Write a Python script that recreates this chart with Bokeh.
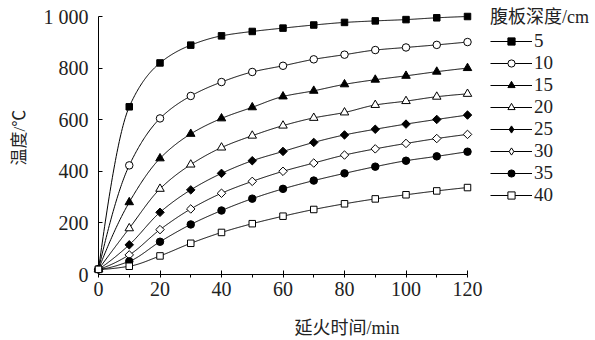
import numpy as np
from bokeh.plotting import figure
from bokeh.models import Range1d, SingleIntervalTicker, Legend, LegendItem
from bokeh.embed import file_html
from bokeh.resources import INLINE

# ---------------- data ----------------
time_min = [0, 10, 20, 30, 40, 50, 60, 70, 80, 90, 100, 110, 120]
depth_labels = ["5", "10", "15", "20", "25", "30", "35", "40"]
temp_5 = [20, 650, 820, 889, 925, 942, 955, 967, 977, 983, 988, 995, 1000]
temp_10 = [20, 423, 605, 692, 746, 785, 809, 834, 852, 870, 880, 890, 901]
temp_15 = [20, 280, 450, 545, 605, 648, 690, 712, 737, 755, 770, 786, 800]
temp_20 = [20, 179, 332, 426, 492, 538, 577, 607, 628, 657, 672, 689, 700]
temp_25 = [20, 115, 241, 328, 392, 441, 477, 512, 541, 563, 583, 601, 618]
temp_30 = [20, 76, 174, 254, 315, 361, 400, 432, 463, 487, 508, 527, 543]
temp_35 = [20, 51, 127, 194, 248, 294, 332, 364, 392, 418, 441, 458, 476]
temp_40 = [20, 32, 72, 121, 163, 197, 226, 252, 274, 293, 309, 324, 337]
series = [temp_5, temp_10, temp_15, temp_20, temp_25, temp_30, temp_35, temp_40]

x_ticks_major = 20
y_ticks_major = 200
y_label_overrides = {1000: "1 000"}
legend_title = "腹板深度/cm"

# marker styles per series: (marker, fill, size, angle, legend marker)
styles = [
    ("square", "black", 6.5, 0.0, "square"),
    ("circle", "white", 7.5, 0.0, "circle"),
    ("triangle", "black", 8.5, 0.0, "triangle"),
    ("triangle", "white", 8.5, 0.0, "triangle"),
    ("square", "black", 6.0, np.pi / 4, "diamond"),
    ("square", "white", 6.0, np.pi / 4, "diamond"),
    ("circle", "black", 7.5, 0.0, "circle"),
    ("square", "white", 6.5, 0.0, "square"),
]


def pchip(x, y, xs):
    x = np.asarray(x, float)
    y = np.asarray(y, float)
    h = np.diff(x)
    d = np.diff(y) / h
    n = len(x)
    m = np.zeros(n)
    for k in range(1, n - 1):
        if d[k - 1] * d[k] > 0:
            w1 = 2 * h[k] + h[k - 1]
            w2 = h[k] + 2 * h[k - 1]
            m[k] = (w1 + w2) / (w1 / d[k - 1] + w2 / d[k])
    def endpoint(h0, h1, d0, d1):
        mm = ((2 * h0 + h1) * d0 - h0 * d1) / (h0 + h1)
        if np.sign(mm) != np.sign(d0):
            mm = 0.0
        elif np.sign(d0) != np.sign(d1) and abs(mm) > abs(3 * d0):
            mm = 3 * d0
        return mm
    m[0] = endpoint(h[0], h[1], d[0], d[1])
    m[-1] = endpoint(h[-1], h[-2], d[-1], d[-2])
    idx = np.clip(np.searchsorted(x, xs) - 1, 0, n - 2)
    hk = h[idx]
    t = (xs - x[idx]) / hk
    h00 = 2 * t**3 - 3 * t**2 + 1
    h10 = t**3 - 2 * t**2 + t
    h01 = -2 * t**3 + 3 * t**2
    h11 = t**3 - t**2
    return h00 * y[idx] + h10 * hk * m[idx] + h01 * y[idx + 1] + h11 * hk * m[idx + 1]


# ---------------- figure ----------------
MIXED = "Liberation Serif, Noto Sans CJK SC"

W, H = 595, 340
LEFT, BOTTOM = 98, 66
PX_PER_MIN = 3.075
PX_PER_DEG = 0.258
x_max = (W - LEFT) / PX_PER_MIN
y_max = (H - BOTTOM) / PX_PER_DEG

p = figure(width=W, height=H, output_backend="svg", toolbar_location=None,
           x_range=Range1d(0, x_max), y_range=Range1d(0, y_max),
           min_border_left=LEFT, min_border_right=0, min_border_top=0,
           min_border_bottom=BOTTOM)
p.outline_line_color = None
p.grid.visible = False
p.background_fill_color = "white"

xa = p.xaxis[0]
ya = p.yaxis[0]
xa.bounds = (0, 120)
ya.bounds = (0, 1000)
xa.ticker = SingleIntervalTicker(interval=x_ticks_major, num_minor_ticks=2)
ya.ticker = SingleIntervalTicker(interval=y_ticks_major, num_minor_ticks=2)
ya.major_label_overrides = y_label_overrides
for ax in (xa, ya):
    ax.axis_line_color = "black"
    ax.axis_line_width = 1
    ax.major_tick_in = 4
    ax.major_tick_out = 0
    ax.major_tick_line_color = "black"
    ax.major_label_text_font = MIXED
    ax.major_label_text_font_size = "20px"
    ax.major_label_text_color = "#222222"
    ax.axis_label_text_font_style = "normal"
    ax.axis_label_text_color = "#222222"
    ax.axis_label_text_font = MIXED
xa.major_label_standoff = 4
ya.major_label_standoff = 6
xa.minor_tick_in = 0
xa.minor_tick_out = 3
xa.minor_tick_line_color = "black"
ya.minor_tick_line_color = None
xa.axis_label = "延火时间/min"
xa.axis_label_text_font_size = "18px"
xa.axis_label_standoff = 19
ya.axis_label = "温度/℃"
ya.axis_label_text_font_size = "17px"
ya.axis_label_standoff = 12

xs = np.linspace(0, 120, 481)
line_rs = []
for ys in series:
    lr = p.line(xs, pchip(time_min, ys, xs), line_color="black", line_width=1)
    line_rs.append(lr)
key_rs = []
for ys, (mk, fill, size, ang, key) in zip(series, styles):
    sr = p.scatter(time_min, ys, marker=mk, size=size, angle=ang,
                   fill_color=fill, line_color="black", line_width=1, level="overlay")
    if key != mk:
        kr = p.scatter(time_min, ys, marker=key, size=size, fill_color=fill,
                       line_color="black", line_width=1, visible=False)
    else:
        kr = sr
    key_rs.append(kr)
items = [LegendItem(label=lab, renderers=[lr, kr])
         for lab, lr, kr in zip(depth_labels, line_rs, key_rs)]

legend = Legend(items=items, location=(392, 68), orientation="vertical",
                border_line_color=None, background_fill_alpha=0,
                padding=0, margin=0, spacing=0,
                glyph_width=42, glyph_height=18, label_height=18,
                label_standoff=2, inactive_fill_alpha=0,
                label_text_font=MIXED, label_text_font_size="19px",
                label_text_color="#222222",
                title=legend_title, title_text_font=MIXED,
                title_text_font_size="18px", title_text_font_style="normal",
                title_text_color="#222222", title_standoff=2)
p.add_layout(legend, "center")

open("out.html", "w").write(file_html(p, INLINE))
